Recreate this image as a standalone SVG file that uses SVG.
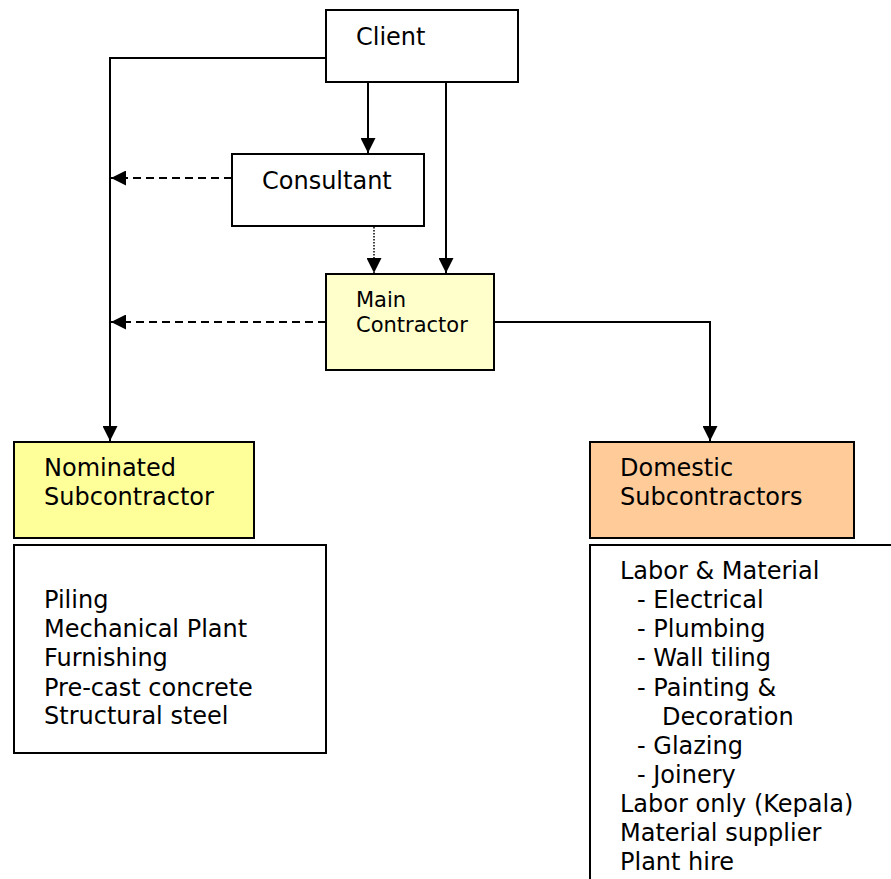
<svg xmlns="http://www.w3.org/2000/svg" width="891" height="879" viewBox="0 0 891 879">
  <style>
    .box { stroke: #000; stroke-width: 2; }
    .plain { fill: #fff; }
    .main { fill: #ffffcc; }
    .nominated { fill: #ffff99; }
    .domestic { fill: #ffcc99; }
    text { font-family: "DejaVu Sans", Verdana, sans-serif; font-size: 24px; fill: #000; }
    text.small { font-size: 21px; }
    .wire { fill: none; stroke: #000; stroke-width: 2; }
    .dashed { stroke-dasharray: 8 5; }
    .dotted { stroke-width: 1.5; stroke-dasharray: 1.5 1.5; }
  </style>
  <defs>
    <marker id="arrow" markerUnits="userSpaceOnUse" markerWidth="15" markerHeight="15" viewBox="0 0 15 15" refX="15" refY="7.5" orient="auto">
      <path d="M0,0 L15,7.5 L0,15 z" fill="#000"/>
    </marker>
  </defs>

  <rect x="0" y="0" width="891" height="879" fill="#fff"/>

  <!-- connectors -->
  <g id="connectors">
    <path class="wire" d="M326,58 H110 V441" marker-end="url(#arrow)"/>
    <path class="wire" d="M368,82 V153" marker-end="url(#arrow)"/>
    <path class="wire" d="M446,82 V273" marker-end="url(#arrow)"/>
    <path class="wire dashed" d="M232,178 H111" marker-end="url(#arrow)"/>
    <path class="wire dotted" d="M374,227 V273" marker-end="url(#arrow)"/>
    <path class="wire dashed" d="M326,322 H111" marker-end="url(#arrow)"/>
    <path class="wire" d="M494,322 H710 V441" marker-end="url(#arrow)"/>
  </g>

  <g id="client">
    <rect class="box plain" x="326" y="10" width="192" height="72"/>
    <text x="356" y="45">Client</text>
  </g>

  <g id="consultant">
    <rect class="box plain" x="232" y="154" width="192" height="72"/>
    <text x="262" y="189">Consultant</text>
  </g>

  <g id="main-contractor">
    <rect class="box main" x="326" y="274" width="168" height="96"/>
    <text class="small" x="356" y="307">Main</text>
    <text class="small" x="356" y="332">Contractor</text>
  </g>

  <g id="nominated-subcontractor">
    <rect class="box nominated" x="14" y="442" width="240" height="96"/>
    <text x="44" y="476">Nominated</text>
    <text x="44" y="505">Subcontractor</text>
  </g>

  <g id="nominated-list">
    <rect class="box plain" x="14" y="545" width="312" height="208"/>
    <text x="44" y="608">Piling</text>
    <text x="44" y="637">Mechanical Plant</text>
    <text x="44" y="666">Furnishing</text>
    <text x="44" y="696">Pre-cast concrete</text>
    <text x="44" y="724">Structural steel</text>
  </g>

  <g id="domestic-subcontractors">
    <rect class="box domestic" x="590" y="442" width="264" height="96"/>
    <text x="620" y="476">Domestic</text>
    <text x="620" y="505">Subcontractors</text>
  </g>

  <g id="domestic-list">
    <rect class="box plain" x="590" y="545" width="340" height="400"/>
    <text x="620" y="579">Labor &amp; Material</text>
    <text x="637" y="608">- Electrical</text>
    <text x="637" y="637">- Plumbing</text>
    <text x="637" y="666">- Wall tiling</text>
    <text x="637" y="696">- Painting &amp;</text>
    <text x="662" y="725">Decoration</text>
    <text x="637" y="754">- Glazing</text>
    <text x="637" y="783">- Joinery</text>
    <text x="620" y="812">Labor only (Kepala)</text>
    <text x="620" y="841">Material supplier</text>
    <text x="620" y="870">Plant hire</text>
  </g>
</svg>
